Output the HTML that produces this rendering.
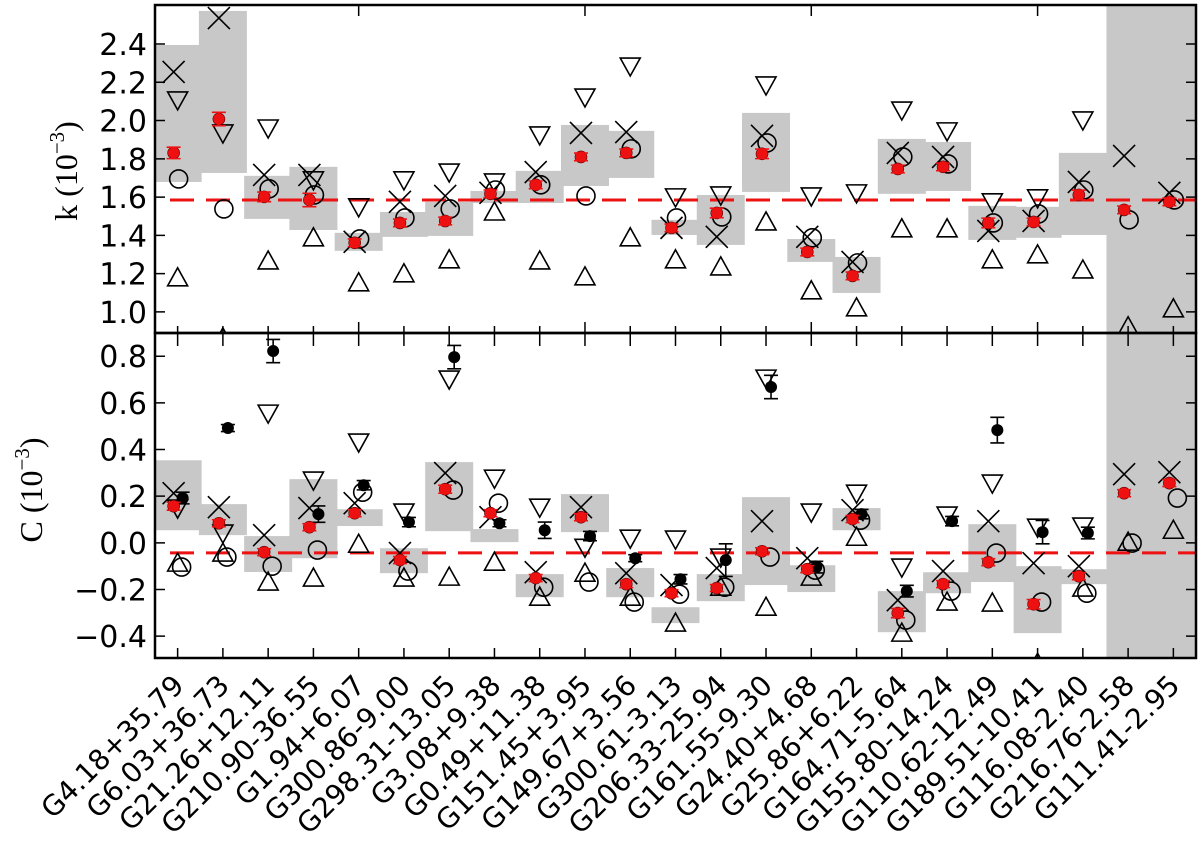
<!DOCTYPE html>
<html><head><meta charset="utf-8"><style>
html,body{margin:0;padding:0;background:#fff;}
svg{display:block;}
text{font-family:"DejaVu Sans","Liberation Sans",sans-serif;}
.ttl{font-family:"Liberation Serif","DejaVu Serif",serif;}
</style></head><body>
<svg id="chart" width="1200" height="843" viewBox="0 0 1200 843" xmlns="http://www.w3.org/2000/svg">
<defs>
<clipPath id="clipTop"><rect x="155" y="5" width="1041" height="328"/></clipPath>
<clipPath id="clipBot"><rect x="155" y="333" width="1041" height="325"/></clipPath>
</defs>
<g id="topPanel" clip-path="url(#clipTop)"></g>
<g id="botPanel" clip-path="url(#clipBot)"></g>
<g id="axes"></g>
<text class="ttl" transform="translate(77,171) rotate(-90)" text-anchor="middle" font-size="32">k (10<tspan font-size="21" dy="-13">−3</tspan><tspan dy="13">)</tspan></text>
<text class="ttl" transform="translate(42,490) rotate(-90)" text-anchor="middle" font-size="32">C (10<tspan font-size="21" dy="-13">−3</tspan><tspan dy="13">)</tspan></text>
</svg>
<script>
const categories = ["G4.18+35.79","G6.03+36.73","G21.26+12.11","G210.90-36.55","G1.94+6.07","G300.86-9.00","G298.31-13.05","G3.08+9.38","G0.49+11.38","G151.45+3.95","G149.67+3.56","G300.61-3.13","G206.33-25.94","G161.55-9.30","G24.40+4.68","G25.86+6.22","G164.71-5.64","G155.80-14.24","G110.62-12.49","G189.51-10.41","G116.08-2.40","G216.76-2.58","G111.41-2.95"];
const kTicks = [1.0,1.2,1.4,1.6,1.8,2.0,2.2,2.4];
const cTicks = [-0.4,-0.2,0.0,0.2,0.4,0.6,0.8];
const kRef = 1.585;
const cRef = -0.043;
// k panel
const kBoxHi = [2.395,2.573,1.711,1.758,1.413,1.522,1.575,1.632,1.737,1.977,1.946,1.481,1.611,2.040,1.381,1.287,1.904,1.888,1.554,1.549,1.831,null,null];
const kBoxLo = [1.679,1.726,1.486,1.428,1.319,1.392,1.397,1.569,1.569,1.658,1.700,1.402,1.350,1.627,1.261,1.099,1.617,1.632,1.376,1.387,1.402,null,null];
const kCross = [2.254,2.536,1.716,1.716,1.366,1.575,1.606,1.622,1.731,1.935,1.940,1.439,1.392,1.920,1.392,1.261,1.831,1.810,1.423,1.475,1.679,1.815,1.622];
const kCircle = [1.695,1.538,1.643,1.611,1.381,1.491,1.538,1.637,1.664,1.606,1.852,1.491,1.496,1.883,1.387,1.256,1.810,1.773,1.465,1.512,1.637,1.481,1.585];
const kDown = [2.108,1.935,1.961,1.690,1.549,1.690,1.731,1.679,1.925,2.123,2.285,1.601,1.611,2.186,1.606,1.622,2.055,1.946,1.575,1.596,2.003,null,null];
const kUp = [1.178,0.864,1.266,1.387,1.152,1.199,1.272,1.522,1.266,1.183,1.387,1.272,1.235,1.470,1.110,1.021,1.434,1.434,1.272,1.298,1.219,0.922,1.016];
const kRed = [1.831,2.008,1.601,1.585,1.361,1.465,1.475,1.617,1.664,1.810,1.831,1.439,1.517,1.826,1.313,1.188,1.747,1.758,1.465,1.470,1.611,1.533,1.575];
const kRedErr = [0.03,0.035,0.025,0.035,0.02,0.02,0.02,0.02,0.02,0.02,0.02,0.02,0.025,0.025,0.02,0.02,0.02,0.02,0.025,0.02,0.025,0.02,0.02];
// C panel
const cBoxHi = [0.354,0.166,0.029,0.273,0.144,-0.023,0.346,0.059,-0.134,0.209,-0.108,-0.276,-0.134,0.196,-0.096,0.149,-0.207,-0.126,0.080,-0.100,-0.113,null,null];
const cBoxLo = [0.054,0.033,-0.125,-0.066,0.072,-0.130,0.050,0.003,-0.233,0.046,-0.233,-0.344,-0.250,-0.181,-0.211,0.054,-0.383,-0.216,-0.168,-0.387,-0.177,null,null];
const cCross = [0.213,0.153,0.033,0.149,0.170,-0.044,0.299,0.110,-0.126,0.153,-0.130,-0.181,-0.108,0.093,-0.066,0.140,-0.246,-0.121,0.093,-0.087,-0.100,0.294,0.303];
const cCircle = [-0.104,-0.061,-0.100,-0.031,0.217,-0.121,0.226,0.170,-0.190,-0.168,-0.254,-0.220,-0.190,-0.061,-0.117,0.097,-0.331,-0.207,-0.044,-0.254,-0.216,-0.001,0.192];
const cDown = [0.149,0.042,0.556,0.269,0.432,0.132,0.702,0.277,0.153,-0.019,0.020,0.016,-0.061,0.706,0.132,0.213,-0.104,0.119,0.256,0.067,0.072,null,null];
const cUp = [-0.087,-0.044,-0.168,-0.151,-0.006,-0.151,-0.147,-0.083,-0.233,-0.130,-0.233,-0.344,-0.190,-0.276,-0.147,0.024,-0.387,-0.254,-0.258,-0.516,-0.194,0.003,0.054];
const cRed = [0.157,0.084,-0.040,0.067,0.127,-0.074,0.230,0.127,-0.151,0.110,-0.177,-0.216,-0.194,-0.036,-0.113,0.102,-0.301,-0.177,-0.083,-0.263,-0.143,0.213,0.256];
const cRedErr = [0.017,0.015,0.015,0.015,0.015,0.015,0.017,0.015,0.015,0.015,0.015,0.015,0.015,0.015,0.015,0.015,0.02,0.015,0.015,0.02,0.015,0.015,0.015];
const cBlack = [0.192,0.492,0.822,0.123,0.247,0.089,0.796,0.084,0.054,0.029,-0.066,-0.156,-0.074,0.668,-0.104,0.123,-0.207,0.093,0.483,0.046,0.042,null,null];
const cBlackErr = [0.025,0.015,0.05,0.035,0.02,0.02,0.05,0.015,0.035,0.02,0.015,0.02,0.07,0.05,0.025,0.02,0.025,0.02,0.055,0.05,0.025,null,null];

const NS = "http://www.w3.org/2000/svg";
const X0 = 155, X1 = 1196;
const step = (X1 - X0) / categories.length;
function xPos(i){ return X0 + step * (i + 0.5); }
const kTop = 5, kBot = 333, kMin = 0.8895, kMax = 2.604;
function yK(v){ return kBot - (v - kMin) / (kMax - kMin) * (kBot - kTop); }
const cTop = 333, cBot = 658, cMin = -0.4936, cMax = 0.8994;
function yC(v){ return cBot - (v - cMin) / (cMax - cMin) * (cBot - cTop); }

function mk(tag, attrs, parent){
  const e = document.createElementNS(NS, tag);
  for (const k in attrs) e.setAttribute(k, attrs[k]);
  parent.appendChild(e);
  return e;
}
const topG = document.getElementById('topPanel');
const botG = document.getElementById('botPanel');
const axG = document.getElementById('axes');

function drawPanel(g, yf, boxHi, boxLo, cross, circ, down, up, red, redErr, black, blackErr, ref, circOff, prefix){
  const band = mk('rect', {x: xPos(21) - step/2 + 1, y: 0, width: 100, height: 843, fill: '#c8c8c8'}, g);
  
  
  for (let i = 0; i < categories.length; i++){
    if (boxHi[i] === null) continue;
    const yh = yf(boxHi[i]), yl = yf(boxLo[i]);
    const r = mk('rect', {x: xPos(i) - 24, y: yh, width: 48, height: yl - yh, fill: '#c8c8c8'}, g);
    
    
  }
  const line = mk('line', {x1: 170, x2: X1, y1: yf(ref), y2: yf(ref), stroke: '#ee1111', 'stroke-width': 3, 'stroke-dasharray': '24 12'}, g);
  
  
  for (let i = 0; i < categories.length; i++){
    const cx = xPos(i);
    if (down[i] !== null){
      const y = yf(down[i]);
      const t = mk('polygon', {points: `${cx-10},${y-8} ${cx+10},${y-8} ${cx},${y+10}`, fill: 'none', stroke: '#000', 'stroke-width': 1.6}, g);
      
      
    }
    {
      const y = yf(up[i]);
      const t = mk('polygon', {points: `${cx-10},${y+8} ${cx+10},${y+8} ${cx},${y-10}`, fill: 'none', stroke: '#000', 'stroke-width': 1.6}, g);
      
      
    }
    {
      const y = yf(circ[i]);
      const c = mk('circle', {cx: cx + circOff, cy: y, r: 9, fill: 'none', stroke: '#000', 'stroke-width': 1.6}, g);
      
      
    }
    {
      const y = yf(cross[i]), x = cx - 4;
      const p = mk('path', {d: `M${x-11},${y-11}L${x+11},${y+11}M${x-11},${y+11}L${x+11},${y-11}`, stroke: '#000', 'stroke-width': 1.6, fill: 'none'}, g);
      
      
    }
    if (black && black[i] !== null){
      const x = cx + 5, y = yf(black[i]), y1 = yf(black[i] + blackErr[i]), y2 = yf(black[i] - blackErr[i]);
      const e = mk('path', {d: `M${x},${y1}L${x},${y2}M${x-7},${y1}L${x+7},${y1}M${x-7},${y2}L${x+7},${y2}`, stroke: '#000', 'stroke-width': 1.6, fill: 'none'}, g);
      
      
      const d = mk('circle', {cx: x, cy: y, r: 6, fill: '#000'}, g);
      
      
    }
    {
      const x = cx - 4, y = yf(red[i]), y1 = yf(red[i] + redErr[i]), y2 = yf(red[i] - redErr[i]);
      const d = mk('circle', {cx: x, cy: y, r: 6, fill: '#ee1111', stroke: '#550000', 'stroke-width': 0.6}, g);
      
      
      const e = mk('path', {d: `M${x},${y1}L${x},${y2}M${x-7},${y1}L${x+7},${y1}M${x-7},${y2}L${x+7},${y2}`, stroke: '#ee1111', 'stroke-width': 1.6, fill: 'none'}, g);
      
      
    }
  }
}
drawPanel(topG, yK, kBoxHi, kBoxLo, kCross, kCircle, kDown, kUp, kRed, kRedErr, null, null, kRef, 1, 'k');
drawPanel(botG, yC, cBoxHi, cBoxLo, cCross, cCircle, cDown, cUp, cRed, cRedErr, cBlack, cBlackErr, cRef, 4, 'c');

const f1 = mk('rect', {x: X0, y: kTop, width: X1 - X0, height: kBot - kTop, fill: 'none', stroke: '#000', 'stroke-width': 2.5}, axG);


const f2 = mk('rect', {x: X0, y: cTop, width: X1 - X0, height: cBot - cTop, fill: 'none', stroke: '#000', 'stroke-width': 2.5}, axG);



for (let i = 0; i < categories.length; i++){
  const x = xPos(i);
  let d = `M${x},${kBot}L${x},${kBot - ((i % 5 === 4) ? 11 : 7)}`;
  if (i % 5 === 4) d += `M${x},${kTop}L${x},${kTop + 11}`;
  d += `M${x},${cTop}L${x},${cTop + 13}M${x},${cBot}L${x},${cBot - 10}`;
  const t = mk('path', {d: d, stroke: '#000', 'stroke-width': 1.5}, axG);
  
  
  const lb = mk('text', {transform: `translate(${x + 8},${cBot + 29}) rotate(-45)`, 'text-anchor': 'end', 'font-size': 28, fill: '#000'}, axG);
  lb.textContent = categories[i];
  
  
}
function yTicks(vals, yf, prefix){
  for (const v of vals){
    const y = yf(v);
    const t = mk('path', {d: `M${X0},${y}L${X0 + 10},${y}M${X1},${y}L${X1 - 10},${y}`, stroke: '#000', 'stroke-width': 1.5}, axG);
    
    
    const lb = mk('text', {x: 147, y: y + 11, 'text-anchor': 'end', 'font-size': 30, fill: '#000'}, axG);
    lb.textContent = (v < 0 ? '\u2212' : '') + Math.abs(v).toFixed(1);
    
    
  }
}
yTicks(kTicks, yK, 'k');
yTicks(cTicks, yC, 'c');
</script>
</body></html>
